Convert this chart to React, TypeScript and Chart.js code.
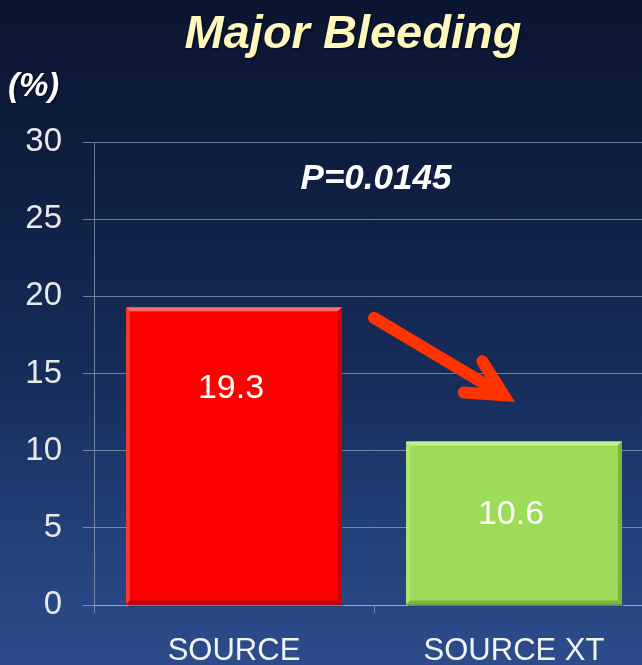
import React, { useEffect, useRef } from "react";
import { Chart, registerables } from "chart.js";

Chart.register(...registerables);

// ---- data ----
const categories = ["SOURCE", "SOURCE XT"];
const values = [19.3, 10.6];
const barColors = ["#ff0000", "#9cdc58"];
const barLight = ["#ff6a6a", "#c4f190"];
const barDark = ["#c80000", "#78b838"];
const yMin = 0;
const yMax = 30;
const yStep = 5;
const titleText = "Major Bleeding";
const unitText = "(%)";
const pValueText = "P=0.0145";
const pValueLevel = 27.6; // y value where the p-value text sits
const arrowStartValue = 18.6;
const arrowEndValue = 13.2;
const labelDrop = 5; // value labels sit this many units below the bar top

const FONT = "'Liberation Sans', Arial, sans-serif";

const overlayPlugin = {
  id: "overlay",
  afterDatasetsDraw(chart: any) {
    const ctx = chart.ctx as CanvasRenderingContext2D;
    const xs = chart.scales.x;
    const ys = chart.scales.y;
    const meta = chart.getDatasetMeta(0);

    // bevels on bars
    meta.data.forEach((bar: any, i: number) => {
      const p = bar.getProps(["x", "y", "base", "width"], true);
      const l = p.x - p.width / 2;
      const r = p.x + p.width / 2;
      const t = p.y;
      const b = p.base;
      const bw = 4;
      ctx.save();
      ctx.fillStyle = "rgba(0,0,0,0.25)";
      ctx.fillRect(l + 2, b, p.width, 2);
      ctx.fillStyle = barLight[i];
      ctx.beginPath();
      ctx.moveTo(l, t);
      ctx.lineTo(r, t);
      ctx.lineTo(r - bw, t + bw);
      ctx.lineTo(l + bw, t + bw);
      ctx.closePath();
      ctx.fill();
      ctx.globalAlpha = 0.5;
      ctx.beginPath();
      ctx.moveTo(l, t);
      ctx.lineTo(l + bw, t + bw);
      ctx.lineTo(l + bw, b - bw);
      ctx.lineTo(l, b);
      ctx.closePath();
      ctx.fill();
      ctx.globalAlpha = 1;
      ctx.fillStyle = barDark[i];
      ctx.beginPath();
      ctx.moveTo(r, t);
      ctx.lineTo(r, b);
      ctx.lineTo(r - bw, b - bw);
      ctx.lineTo(r - bw, t + bw);
      ctx.closePath();
      ctx.fill();
      ctx.beginPath();
      ctx.moveTo(l, b);
      ctx.lineTo(r, b);
      ctx.lineTo(r - bw, b - bw);
      ctx.lineTo(l + bw, b - bw);
      ctx.closePath();
      ctx.fill();
      ctx.restore();

      ctx.save();
      ctx.fillStyle = "#ffffff";
      ctx.font = `34px ${FONT}`;
      ctx.textAlign = "center";
      ctx.textBaseline = "middle";
      ctx.fillText(String(values[i]), p.x - 3, ys.getPixelForValue(values[i] - labelDrop) + (i === 0 ? 4 : -4));
      ctx.restore();
    });

    // arrow from between the bars down to the second bar
    const x0 = (xs.getPixelForValue(0) + xs.getPixelForValue(1)) / 2;
    const y0 = ys.getPixelForValue(arrowStartValue);
    const tipX = xs.getPixelForValue(1);
    const tipY = ys.getPixelForValue(arrowEndValue);
    const ang = Math.atan2(tipY - y0, tipX - x0);
    const back = 12;
    const x1 = tipX - back * Math.cos(ang);
    const y1 = tipY - back * Math.sin(ang);
    const headLen = 40;
    const spread = (27 * Math.PI) / 180;
    ctx.save();
    ctx.strokeStyle = "#ff3300";
    ctx.lineWidth = 12;
    ctx.lineCap = "round";
    ctx.lineJoin = "miter";
    ctx.miterLimit = 10;
    ctx.beginPath();
    ctx.moveTo(x0, y0);
    ctx.lineTo(x1 - 4 * Math.cos(ang), y1 - 4 * Math.sin(ang));
    ctx.stroke();
    ctx.beginPath();
    ctx.moveTo(x1 - headLen * Math.cos(ang - spread), y1 - headLen * Math.sin(ang - spread));
    ctx.lineTo(x1, y1);
    ctx.lineTo(x1 - headLen * Math.cos(ang + spread), y1 - headLen * Math.sin(ang + spread));
    ctx.stroke();
    ctx.restore();

    // p value
    ctx.save();
    ctx.fillStyle = "#ffffff";
    ctx.font = `italic bold 35px ${FONT}`;
    ctx.textAlign = "center";
    ctx.textBaseline = "middle";
    ctx.fillText(pValueText, x0 + 2, ys.getPixelForValue(pValueLevel));
    ctx.restore();
  },
  afterDraw(chart: any) {
    const ctx = chart.ctx as CanvasRenderingContext2D;
    ctx.save();
    ctx.shadowColor = "rgba(0,0,0,0.6)";
    ctx.shadowOffsetX = 1;
    ctx.shadowOffsetY = 1;
    ctx.shadowBlur = 2;
    ctx.fillStyle = "#fff9bd";
    ctx.font = `italic bold 47px ${FONT}`;
    ctx.textAlign = "center";
    ctx.textBaseline = "alphabetic";
    ctx.fillText(titleText, 353, 48);
    ctx.fillStyle = "#ffffff";
    ctx.font = `italic bold 33px ${FONT}`;
    ctx.textAlign = "left";
    ctx.fillText(unitText, 8, 96);
    ctx.restore();
  },
};

export default function App() {
  const canvasRef = useRef<HTMLCanvasElement | null>(null);

  useEffect(() => {
    const canvas = canvasRef.current;
    if (!canvas) return;
    const gridColor = "rgba(175,185,205,0.6)";
    const chart = new Chart(canvas, {
      type: "bar",
      data: {
        labels: categories,
        datasets: [
          {
            data: values,
            backgroundColor: barColors,
            borderWidth: 0,
            barPercentage: 0.771,
            categoryPercentage: 1,
          },
        ],
      },
      options: {
        animation: false,
        responsive: false,
        devicePixelRatio: 1,
        layout: { padding: { top: 142, left: 0, right: 2, bottom: 0 } },
        plugins: {
          legend: { display: false },
          title: { display: false },
          tooltip: { enabled: false },
        },
        scales: {
          x: {
            afterFit: (s: any) => {
              s.height = 60;
            },
            grid: {
              display: true,
              drawOnChartArea: false,
              drawTicks: true,
              tickLength: 8,
              color: gridColor,
              offset: true,
            },
            border: { display: true, color: gridColor, width: 1 },
            ticks: {
              color: "#f2f2f2",
              font: { family: FONT, size: 31 },
              padding: 20,
              maxRotation: 0,
            },
          },
          y: {
            min: yMin,
            max: yMax,
            afterFit: (s: any) => {
              s.width = 94;
            },
            grid: {
              color: gridColor,
              lineWidth: 1,
              drawTicks: true,
              tickLength: 11,
            },
            border: { display: true, color: gridColor, width: 1 },
            ticks: {
              stepSize: yStep,
              color: "#e8e8e8",
              font: { family: FONT, size: 33 },
              padding: 21,
            },
          },
        },
      },
      plugins: [overlayPlugin],
    });
    return () => chart.destroy();
  }, []);

  return (
    <div
      style={{
        position: "fixed",
        left: 0,
        top: 0,
        width: 642,
        height: 665,
        overflow: "hidden",
        background:
          "linear-gradient(to bottom, #0a1530 0%, #0f1e40 25%, #162c58 55%, #22407a 80%, #2c4c8b 100%)",
      }}
    >
      <canvas ref={canvasRef} width={656} height={665} style={{ display: "block" }} />
    </div>
  );
}
